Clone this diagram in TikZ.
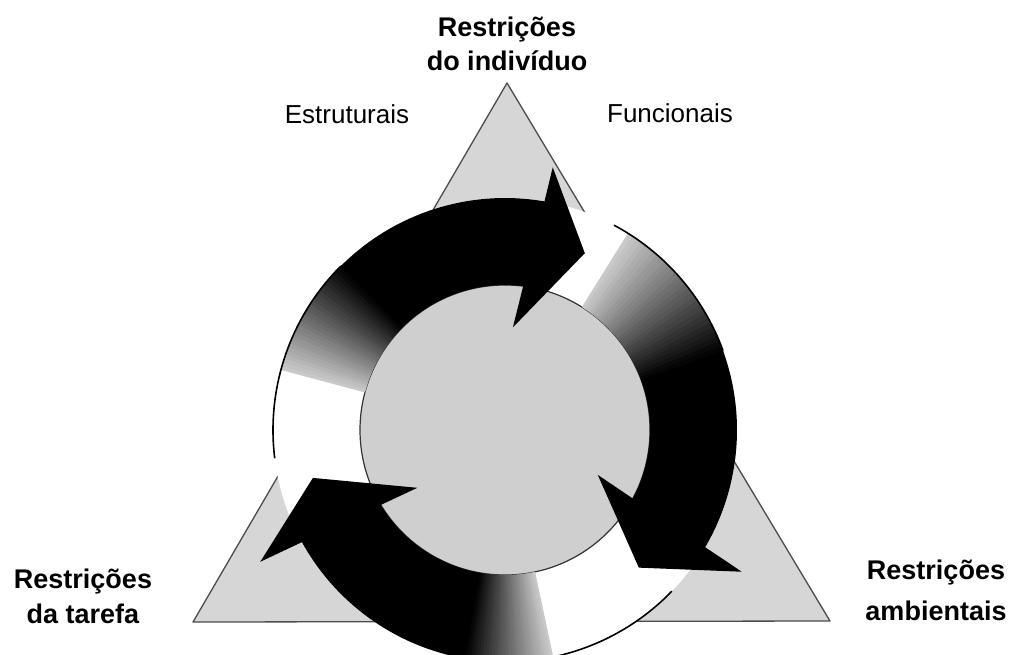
\documentclass[tikz,border=0pt]{standalone}
\usepackage{fontspec}
\setmainfont{Liberation Sans}
\begin{document}
\begin{tikzpicture}[x=1pt,y=1pt,
  lbl/.style={font=\fontsize{27}{32}\selectfont\bfseries, inner sep=0pt, anchor=base},
  sub/.style={font=\fontsize{26}{30}\selectfont, inner sep=0pt, anchor=base},
  rimline/.style={line width=1.6pt, black},
  arrowbody/.style={fill=black}]
\useasboundingbox (0,0) rectangle (1011,-654);
% triangle
\coordinate (A) at (507,-83);
\coordinate (B) at (193,-622);
\coordinate (Cc) at (830,-621);
\fill[black!16, draw=black!70, line width=1.3pt, line join=round] (A) -- (B) -- (Cc) -- cycle;
\begin{scope}[shift={(505,-430)}]
  \coordinate (O) at (0,0);
  \fill[white] (O) circle[radius=232];
  \fill[black!19] (O) circle[radius=145];
  \draw[black!80, line width=1.2pt] (O) circle[radius=145];
  % gradient tails
  \foreach \a/\b in {165/135, 58/20, 282/260} {
    \foreach \i in {0,...,29} {
      \pgfmathsetmacro{\s}{\a+(\b-\a)*\i/30}
      \pgfmathsetmacro{\e}{\a+(\b-\a)*(\i+1.3)/30}
      \pgfmathtruncatemacro{\p}{20+80*(\i+0.5)/30}
      \fill[black!\p] (\s:232) arc[start angle=\s, end angle=\e, radius=232]
        -- (\e:145) arc[start angle=\e, end angle=\s, radius=145] -- cycle;
    }
  }
  % outer rim lines in the light parts
  \draw[rimline] (187:232) arc[start angle=187, end angle=135, radius=232];
  \draw[rimline] (62:232) arc[start angle=62, end angle=20, radius=232];
  \draw[rimline] (316:232) arc[start angle=316, end angle=260, radius=232];
  % arrows
  \path[arrowbody] (135:232) arc[start angle=135, end angle=80.2, radius=232]
    -- (79.7:267) -- (65.7:194) -- (85.6:103) -- (82.8:145)
    arc[start angle=82.8, end angle=135, radius=145] -- cycle;
  \path[arrowbody] (20:232) arc[start angle=20, end angle=-30.35, radius=232]
    -- (-30.9:276) -- (-45.8:192) -- (-25.8:103) -- (-28.2:145)
    arc[start angle=-28.2, end angle=20, radius=145] -- cycle;
  \path[arrowbody] (260:232) arc[start angle=260, end angle=208.9, radius=232]
    -- (208.3:278) -- (194:198) -- (213.4:105) -- (211.1:145)
    arc[start angle=211.1, end angle=260, radius=145] -- cycle;
\end{scope}
% labels
\node[lbl] (t1) at (507,-36) {Restrições};
\node[lbl] (t2) at (507,-70) {do indivíduo};
\node[sub] (es) at (347,-123) {Estruturais};
\node[sub] (fu) at (670,-122) {Funcionais};
\node[lbl] (l1) at (83,-588) {Restrições};
\node[lbl] (l2) at (83,-623) {da tarefa};
\node[lbl] (r1) at (936,-579) {Restrições};
\node[lbl] (r2) at (936,-620) {ambientais};
\end{tikzpicture}
\end{document}
